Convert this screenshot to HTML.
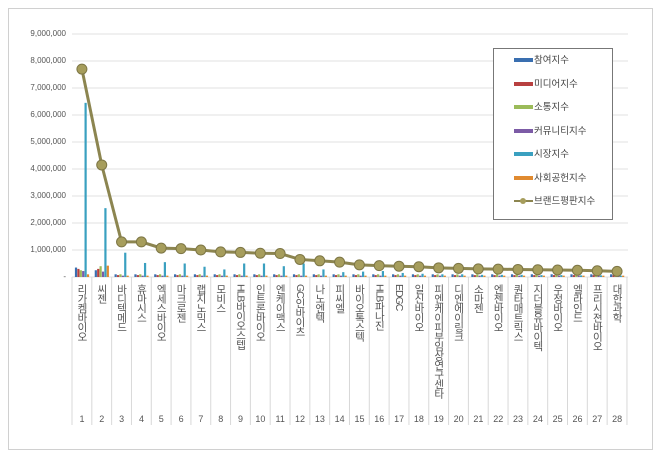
<!DOCTYPE html><html><head><meta charset="utf-8"><style>
body{margin:0;background:#fff;width:660px;height:455px;overflow:hidden;font-family:"Liberation Sans","Noto Sans CJK KR",sans-serif}
#f{position:absolute;left:8px;top:8px;width:643px;height:440px;border:1px solid #d0d0d0}
.lb{position:absolute;top:284px;writing-mode:vertical-rl;text-orientation:mixed;font-size:10.5px;color:#555;line-height:12px;letter-spacing:-1px}
.n{position:absolute;top:414px;font-size:9px;color:#555;width:20px;text-align:center}
.yl{position:absolute;left:10px;width:56px;text-align:right;font-size:8px;color:#555}
#lg{position:absolute;left:493px;top:48px;width:118px;height:170px;border:1px solid #777;background:#fff;font-size:9.5px;color:#444}
#lg div{position:absolute;left:20px;height:12px;line-height:12px}
#lg span{display:inline-block;width:19px;height:4px;vertical-align:middle;margin-right:1px}
</style></head><body><div id="f"></div><div id="c"></div>
<script>
const names=["리가켐바이오","씨젠","바디텍메드","휴마시스","엑세스바이오","마크로젠","랩지노믹스","모비스","HLB바이오스텝","인트론바이오","엔케이맥스","GC인바이츠","나노엔텍","피씨엘","바이오톡스텍","HLB파나진","EDGC","일신바이오","피엔케이피부임상연구센타","디엔에이링크","소마젠","엔젠바이오","퀀타매트릭스","지더블유바이텍","우정바이오","엘라인드","프리시젼바이오","대한과학"];
const brand=[7.7,4.15,1.3,1.3,1.07,1.05,1.0,0.93,0.91,0.88,0.87,0.65,0.6,0.55,0.45,0.42,0.4,0.38,0.34,0.32,0.3,0.29,0.28,0.27,0.26,0.25,0.23,0.21];
const mk=[6.45,2.55,0.9,0.52,0.55,0.5,0.38,0.28,0.5,0.5,0.4,0.5,0.28,0.18,0.2,0.22,0.15,0.12,0.1,0.1,0.08,0.08,0.08,0.07,0.07,0.06,0.06,0.05];
const y0=277,k=27,x0=72,st=19.82;
let s='<svg width="660" height="455" style="position:absolute;left:0;top:0">';
for(let i=0;i<=9;i++){let y=y0-i*k;s+=`<line x1="72" x2="628" y1="${y}" y2="${y}" stroke="#e0e0e0"/>`}
for(let i=0;i<=28;i++){let x=x0+i*st;s+=`<line x1="${x}" x2="${x}" y1="277" y2="425" stroke="#d8d8d8"/>`}
const cols=["#3a6fb0","#b84040","#9bbb59","#7c5ba6","#3aa0c0","#e08a30"];
for(let i=0;i<28;i++){let c=x0+i*st+st/2-7;
 let small=i==0?[0.35,0.3,0.25,0.22]:i==1?[0.25,0.3,0.4,0.2]:[0.1,0.07,0.1,0.05];
 let vals=[small[0],small[1],small[2],small[3],mk[i],i==1?0.42:i==0?0.1:0.05];
 vals.forEach((v,j)=>{let h=v*k;s+=`<rect x="${c+j*2.4}" y="${y0-h}" width="2.2" height="${h}" fill="${cols[j]}"/>`});}
let pts=brand.map((v,i)=>[(x0+i*st+st/2),y0-v*k]);
s+=`<polyline points="${pts.map(p=>p.join(',')).join(' ')}" fill="none" stroke="#8c8550" stroke-width="3"/>`;
pts.forEach(p=>s+=`<circle cx="${p[0]}" cy="${p[1]}" r="5" fill="#a69d5c" stroke="#7d7645"/>`);
s+='</svg>';
let h='';
for(let i=0;i<=9;i++){h+=`<div class="yl" style="top:${y0-i*k-5}px">${i?(i+',000,000'):'-'}</div>`}
names.forEach((n,i)=>{let x=x0+i*st;h+=`<div class="lb" style="left:${x+4}px">${n}</div><div class="n" style="left:${x}px">${i+1}</div>`});
const ln=["참여지수","미디어지수","소통지수","커뮤니티지수","시장지수","사회공헌지수","브랜드평판지수"];
h+='<div id="lg">';ln.forEach((t,i)=>{h+=`<div style="top:${6+i*23.5}px">${i<6?`<span style="background:${cols[i]}"></span>`:'<span style="height:2px;background:#8c8550;position:relative"><i style="position:absolute;left:6px;top:-2px;width:6px;height:6px;border-radius:50%;background:#a69d5c"></i></span>'}${t}</div>`});h+='</div>';
document.getElementById('c').innerHTML=s+h;
</script></body></html>
